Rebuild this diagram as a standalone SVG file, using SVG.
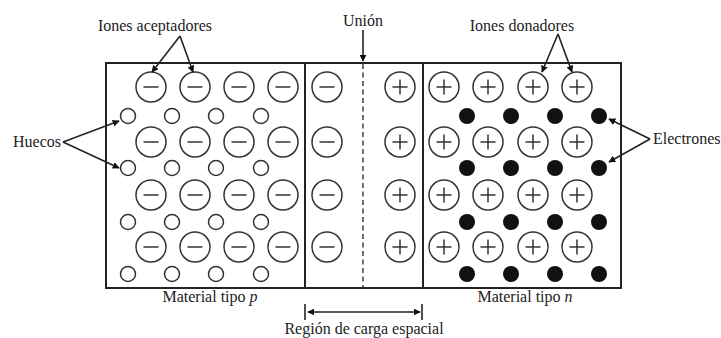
<svg xmlns="http://www.w3.org/2000/svg" width="721" height="338" viewBox="0 0 721 338">
  <style>
    .lbl { font-family: 'Liberation Serif', 'DejaVu Serif', serif; font-size: 16px; fill: #222; }
    .frame { fill: none; stroke: #222; stroke-width: 2; }
    .ion { fill: #fff; stroke: #333; stroke-width: 1.5; }
    .sign { stroke: #333; stroke-width: 1.5; fill: none; }
    .hole { fill: #fff; stroke: #333; stroke-width: 1.5; }
    .electron { fill: #111; }
    .lead { fill: none; stroke: #222; stroke-width: 1.6; }
  </style>
  <defs>
    <marker id="tip" viewBox="0 0 10 10" refX="9" refY="5" markerWidth="7" markerHeight="7" orient="auto" markerUnits="userSpaceOnUse">
      <path d="M0,0 L10,5 L0,10 z" fill="#111"/>
    </marker>
    <g id="neg"><circle class="ion" r="15"/><line class="sign" x1="-7.5" y1="0" x2="7.5" y2="0"/></g>
    <g id="pos"><circle class="ion" r="15"/><line class="sign" x1="-7.5" y1="0" x2="7.5" y2="0"/><line class="sign" x1="0" y1="-7.5" x2="0" y2="7.5"/></g>
    <circle id="hole" class="hole" r="7.5"/>
    <circle id="elec" class="electron" r="8"/>
  </defs>

  <!-- crystal outline and region boundaries -->
  <g id="crystal">
    <rect class="frame" x="106" y="63" width="515" height="225"/>
    <line class="frame" x1="305" y1="63" x2="305" y2="288"/>
    <line class="frame" x1="423" y1="63" x2="423" y2="288"/>
    <line x1="363" y1="64" x2="363" y2="287" stroke="#444" stroke-width="1.5" stroke-dasharray="5,3.5"/>
  </g>

  <!-- p side: acceptor ions and holes -->
  <g id="p-material">
    <use href="#neg" x="151" y="87"/><use href="#neg" x="195" y="87"/><use href="#neg" x="239" y="87"/><use href="#neg" x="283" y="87"/>
    <use href="#neg" x="151" y="142"/><use href="#neg" x="195" y="142"/><use href="#neg" x="239" y="142"/><use href="#neg" x="283" y="142"/>
    <use href="#neg" x="151" y="195"/><use href="#neg" x="195" y="195"/><use href="#neg" x="239" y="195"/><use href="#neg" x="283" y="195"/>
    <use href="#neg" x="151" y="247"/><use href="#neg" x="195" y="247"/><use href="#neg" x="239" y="247"/><use href="#neg" x="283" y="247"/>
    <use href="#hole" x="128" y="116"/><use href="#hole" x="172" y="116"/><use href="#hole" x="216" y="116"/><use href="#hole" x="261" y="116"/>
    <use href="#hole" x="128" y="168"/><use href="#hole" x="172" y="168"/><use href="#hole" x="216" y="168"/><use href="#hole" x="261" y="168"/>
    <use href="#hole" x="128" y="222"/><use href="#hole" x="172" y="222"/><use href="#hole" x="216" y="222"/><use href="#hole" x="261" y="222"/>
    <use href="#hole" x="128" y="274"/><use href="#hole" x="172" y="274"/><use href="#hole" x="216" y="274"/><use href="#hole" x="261" y="274"/>
  </g>

  <!-- space-charge region -->
  <g id="depletion">
    <use href="#neg" x="327" y="87"/><use href="#neg" x="327" y="142"/><use href="#neg" x="327" y="195"/><use href="#neg" x="327" y="247"/>
    <use href="#pos" x="400" y="87"/><use href="#pos" x="400" y="142"/><use href="#pos" x="400" y="195"/><use href="#pos" x="400" y="247"/>
  </g>

  <!-- n side: donor ions and electrons -->
  <g id="n-material">
    <use href="#pos" x="444" y="87"/><use href="#pos" x="488" y="87"/><use href="#pos" x="533" y="87"/><use href="#pos" x="577" y="87"/>
    <use href="#pos" x="444" y="142"/><use href="#pos" x="488" y="142"/><use href="#pos" x="533" y="142"/><use href="#pos" x="577" y="142"/>
    <use href="#pos" x="444" y="195"/><use href="#pos" x="488" y="195"/><use href="#pos" x="533" y="195"/><use href="#pos" x="577" y="195"/>
    <use href="#pos" x="444" y="247"/><use href="#pos" x="488" y="247"/><use href="#pos" x="533" y="247"/><use href="#pos" x="577" y="247"/>
    <use href="#elec" x="467" y="116"/><use href="#elec" x="511" y="116"/><use href="#elec" x="555" y="116"/><use href="#elec" x="599" y="116"/>
    <use href="#elec" x="467" y="168"/><use href="#elec" x="511" y="168"/><use href="#elec" x="555" y="168"/><use href="#elec" x="599" y="168"/>
    <use href="#elec" x="467" y="222"/><use href="#elec" x="511" y="222"/><use href="#elec" x="555" y="222"/><use href="#elec" x="599" y="222"/>
    <use href="#elec" x="467" y="274"/><use href="#elec" x="511" y="274"/><use href="#elec" x="555" y="274"/><use href="#elec" x="599" y="274"/>
  </g>

  <!-- pointer lines -->
  <g id="connectors">
    <path class="lead" d="M180,36 L152,72" marker-end="url(#tip)"/>
    <path class="lead" d="M180,36 L193,72" marker-end="url(#tip)"/>
    <path class="lead" d="M363,30 L363,61" marker-end="url(#tip)"/>
    <path class="lead" d="M558,34 L542,72" marker-end="url(#tip)"/>
    <path class="lead" d="M558,34 L572,72" marker-end="url(#tip)"/>
    <path class="lead" d="M63,142 L119,121" marker-end="url(#tip)"/>
    <path class="lead" d="M63,142 L119,168" marker-end="url(#tip)"/>
    <path class="lead" d="M650,139 L609,119" marker-end="url(#tip)"/>
    <path class="lead" d="M650,139 L609,162" marker-end="url(#tip)"/>
    <path class="lead" d="M364,312 L308,312" marker-end="url(#tip)"/>
    <path class="lead" d="M364,312 L420,312" marker-end="url(#tip)"/>
    <line class="lead" x1="305" y1="304" x2="305" y2="320"/>
    <line class="lead" x1="422" y1="304" x2="422" y2="320"/>
  </g>

  <!-- labels -->
  <g id="labels">
    <text class="lbl" x="155" y="31" text-anchor="middle">Iones aceptadores</text>
    <text class="lbl" x="363" y="26" text-anchor="middle">Unión</text>
    <text class="lbl" x="522" y="31" text-anchor="middle">Iones donadores</text>
    <text class="lbl" x="13" y="147">Huecos</text>
    <text class="lbl" x="653" y="144">Electrones</text>
    <text class="lbl" x="210" y="302" text-anchor="middle">Material tipo <tspan font-style="italic">p</tspan></text>
    <text class="lbl" x="525" y="302" text-anchor="middle">Material tipo <tspan font-style="italic">n</tspan></text>
    <text class="lbl" x="364" y="334" text-anchor="middle">Región de carga espacial</text>
  </g>
</svg>
